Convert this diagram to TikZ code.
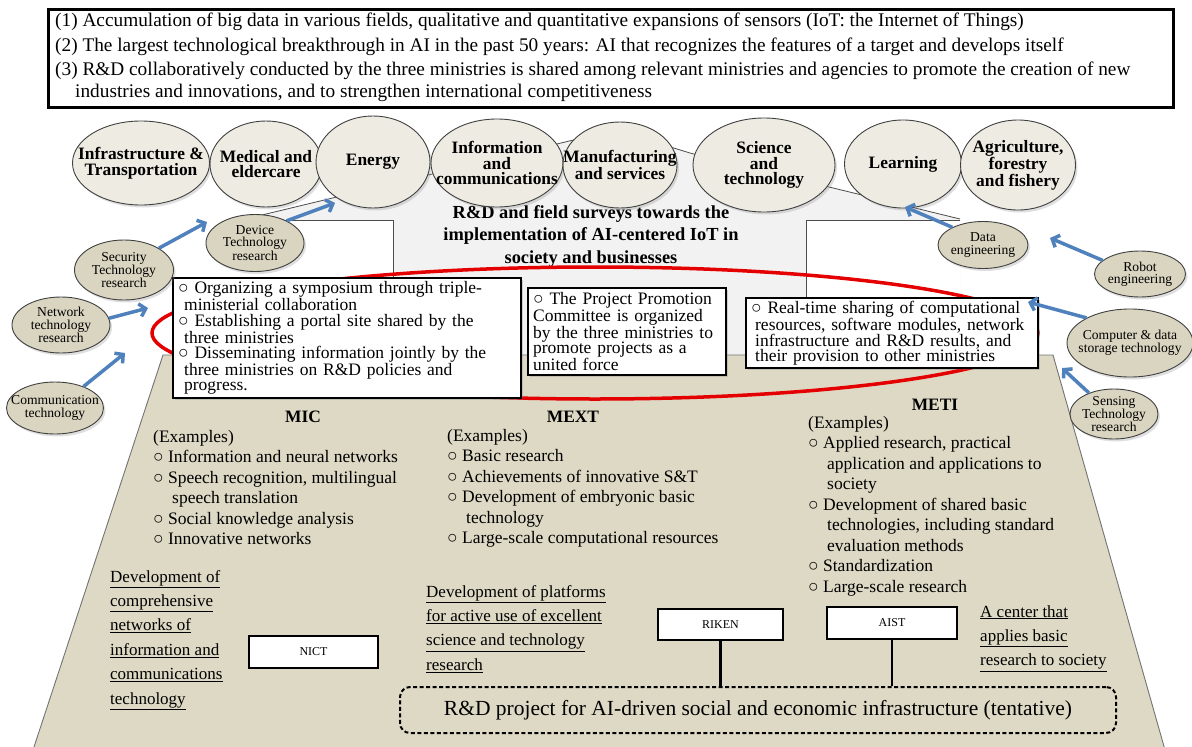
\documentclass[tikz,border=0pt]{standalone}
\usepackage{fontspec}
\setmainfont{Liberation Serif}
\usetikzlibrary{shapes.geometric,arrows.meta,shadows}
\definecolor{beigeA}{RGB}{221,217,196}
\definecolor{ellbig}{RGB}{238,236,226}
\definecolor{ellsmall}{RGB}{218,213,192}
\definecolor{arrowblue}{RGB}{79,129,189}
\definecolor{grayreg}{RGB}{242,242,242}
\definecolor{redring}{RGB}{228,0,0}
\newcommand{\bul}{○}
\newcommand{\hang}{\hspace*{19pt}}
\begin{document}
\begin{tikzpicture}[x=1pt,y=-1pt,
  bigell/.style={ellipse, draw=black!75, line width=0.9pt, fill=ellbig, inner sep=0pt,
    drop shadow={opacity=0.25,shadow xshift=2pt,shadow yshift=-2.5pt}},
  bigtxt/.style={align=center, inner sep=0pt, font=\fontsize{17.4}{15.5}\selectfont\bfseries},
  smallell/.style={ellipse, draw=black!75, line width=0.9pt, fill=ellsmall, inner sep=0pt,
    drop shadow={opacity=0.25,shadow xshift=2pt,shadow yshift=-2.5pt}},
  smalltxt/.style={align=center, inner sep=0pt, font=\fontsize{13.6}{12.3}\selectfont},
  infobox/.style={draw=black, line width=2.3pt, fill=white, align=left, anchor=north west,
    inner xsep=5pt, inner ysep=0pt, font=\fontsize{17.5}{15.5}\selectfont,
    drop shadow={opacity=0.3,shadow xshift=2pt,shadow yshift=-2pt}},
  bluearrow/.style={draw=arrowblue, line width=3.5pt, -{Straight Barb[length=6pt,width=13pt]}},
  thinline/.style={draw=black!70, line width=0.8pt},
  orgbox/.style={draw=black, line width=2.4pt, fill=white, font=\fontsize{12}{12}\selectfont, inner sep=0pt},
  coltext/.style={anchor=north west, align=left, inner sep=0pt, font=\fontsize{17.5}{20.5}\selectfont},
  ultext/.style={anchor=north west, align=left, inner sep=0pt, font=\fontsize{17}{24.4}\selectfont},
  toptext/.style={anchor=west, inner sep=0pt, font=\fontsize{19.3}{20}\selectfont},
  headtext/.style={inner sep=0pt, font=\fontsize{17.4}{18}\selectfont\bfseries}
]
\useasboundingbox (0,0) rectangle (1192,747);
\fill[white] (0,0) rectangle (1192,747);

% top box
\node[draw=black, line width=2.5pt, minimum width=1125, minimum height=98, anchor=north west, inner sep=0pt] (topbox) at (47,8) {};
\node[toptext] (t1) at (55,22) {(1) Accumulation of big data in various fields, qualitative and quantitative expansions of sensors (IoT: the Internet of Things)};
\node[toptext] (t2) at (55,47) {(2) The largest technological breakthrough in AI in the past 50 years: AI that recognizes the features of a target and develops itself};
\node[toptext] (t3) at (55,71) {(3) R\&D collaboratively conducted by the three ministries is shared among relevant ministries and agencies to promote the creation of new};
\node[toptext] (t4) at (75,93) {industries and innovations, and to strengthen international competitiveness};

% gray upper region
\fill[grayreg] (262,215) -- (615,130) -- (690,153) -- (960,219) -- (960,356) -- (262,356) -- cycle;
\draw[thinline] (262,215) -- (615,130) -- (690,153) -- (960,219);
\fill[white] (262,220) rectangle (393,356);
\fill[white] (806,220) rectangle (960,356);
\draw[thinline] (262,220) -- (393,220) -- (393,356);
\draw[thinline] (960,220) -- (806,220) -- (806,356);

\node[align=center, inner sep=0pt, font=\fontsize{18.4}{22.5}\selectfont\bfseries] (title) at (591,236.5)
  {R\&D and field surveys towards the\\implementation of AI-centered IoT in\\society and businesses};

% beige base
\draw[black!55, line width=0.9pt, fill=beigeA] (163,355) -- (1053,355) -- (1165,750) -- (33,750) -- cycle;

% red ring
\node[ellipse, draw=redring, line width=3.5pt, minimum width=886, minimum height=132, inner sep=0pt] (ring) at (595,333) {};

% info boxes
\node[infobox, minimum width=348, minimum height=120, text width=338] (boxA) at (172,277)
  {\bul{} Organizing a symposium through triple-\\\hspace*{6pt}ministerial collaboration\\\bul{} Establishing a portal site shared by the\\\hspace*{6pt}three ministries\\\bul{} Disseminating information jointly by the\\\hspace*{6pt}three ministries on R\&D policies and\\\hspace*{6pt}progress.};
\node[infobox, minimum width=198, minimum height=87, text width=188] (boxB) at (527,287)
  {\bul{} The Project Promotion\\Committee is organized\\by the three ministries to\\promote projects as a\\united force};
\node[infobox, minimum width=292, minimum height=70, text width=282] (boxC) at (745,297)
  {\bul{} Real-time sharing of computational\\\hspace*{4pt}resources, software modules, network\\\hspace*{4pt}infrastructure and R\&D results, and\\\hspace*{4pt}their provision to other ministries};

% big ellipses
\node[bigell, minimum width=137, minimum height=84] (infra) at (141,163) {};
\node[bigell, minimum width=112, minimum height=86] (med) at (266,164) {};
\node[bigell, minimum width=114, minimum height=92] (energy) at (373,162) {};
\node[bigell, minimum width=132, minimum height=88] (info) at (497,163) {};
\node[bigell, minimum width=114, minimum height=86] (manu) at (620,165) {};
\node[bigell, minimum width=142, minimum height=94] (sci) at (764,165) {};
\node[bigell, minimum width=117, minimum height=88] (learn) at (903,164) {};
\node[bigell, minimum width=115, minimum height=90] (agri) at (1018,165) {};
\node[bigtxt] (infraT) at (infra) {Infrastructure \&\\Transportation};
\node[bigtxt] (medT) at (med) {Medical and\\eldercare};
\node[bigtxt] (energyT) at (energy) {Energy};
\node[bigtxt] (infoT) at (info) {Information\\and\\communications};
\node[bigtxt] (manuT) at (manu) {Manufacturing\\and services};
\node[bigtxt] (sciT) at (sci) {Science\\and\\technology};
\node[bigtxt] (learnT) at (learn) {Learning};
\node[bigtxt] (agriT) at (agri) {Agriculture,\\forestry\\and fishery};

% small ellipses
\node[smallell, minimum width=98, minimum height=57] (dev) at (255,243) {};
\node[smallell, minimum width=99, minimum height=60] (sec) at (124,270) {};
\node[smallell, minimum width=98, minimum height=56] (net) at (61,325) {};
\node[smallell, minimum width=97, minimum height=52] (comm) at (55,408) {};
\node[smallell, minimum width=90, minimum height=47] (data) at (983,245) {};
\node[smallell, minimum width=91, minimum height=46] (robot) at (1140,274) {};
\node[smallell, minimum width=126, minimum height=68] (comp) at (1130,343) {};
\node[smallell, minimum width=88, minimum height=50] (sens) at (1114,414) {};
\node[smalltxt] (devT) at (dev) {Device\\Technology\\research};
\node[smalltxt] (secT) at (sec) {Security\\Technology\\research};
\node[smalltxt] (netT) at (net) {Network\\technology\\research};
\node[smalltxt] (commT) at (comm) {Communication\\technology};
\node[smalltxt] (dataT) at (data) {Data\\engineering};
\node[smalltxt] (robotT) at (robot) {Robot\\engineering};
\node[smalltxt] (compT) at (comp) {Computer \& data\\storage technology};
\node[smalltxt] (sensT) at (sens) {Sensing\\Technology\\research};

% arrow ends
\coordinate (commE) at (125,353);
\coordinate (netE) at (148,308);
\coordinate (secE) at (207,222);
\coordinate (devE) at (335,203);
\coordinate (dataE) at (905,207);
\coordinate (robotE) at (1050,238);
\coordinate (compE) at (1028,302);
\coordinate (sensE) at (1062,368);
\draw[bluearrow] (comm.37) -- (commE);
\draw[bluearrow] (net.8) -- (netE);
\draw[bluearrow] (sec.32) -- (secE);
\draw[bluearrow] (dev.35) -- (devE);
\draw[bluearrow] (data.150) -- (dataE);
\draw[bluearrow] (robot.160) -- (robotE);
\draw[bluearrow] (comp.150) -- (compE);
\draw[bluearrow] (sens.140) -- (sensE);

% ministries
\node[headtext] (mic) at (303,417) {MIC};
\node[headtext] (mext) at (573,417) {MEXT};
\node[headtext] (meti) at (935,405) {METI};

\node[coltext] (micL) at (153,430)
  {(Examples)\\\bul{} Information and neural networks\\\bul{} Speech recognition, multilingual\\\hang speech translation\\\bul{} Social knowledge analysis\\\bul{} Innovative networks};
\node[coltext] (mextL) at (447,429)
  {(Examples)\\\bul{} Basic research\\\bul{} Achievements of innovative S\&T\\\bul{} Development of embryonic basic\\\hang technology\\\bul{} Large-scale computational resources};
\node[coltext] (metiL) at (808,416)
  {(Examples)\\\bul{} Applied research, practical\\\hang application and applications to\\\hang society\\\bul{} Development of shared basic\\\hang technologies, including standard\\\hang evaluation methods\\\bul{} Standardization\\\bul{} Large-scale research};

\node[ultext] (micU) at (110,570)
  {\underline{Development of}\\\underline{comprehensive}\\\underline{networks of}\\\underline{information and}\\\underline{communications}\\\underline{technology}};
\node[ultext] (mextU) at (426,585)
  {\underline{Development of platforms}\\\underline{for active use of excellent}\\\underline{science and technology}\\\underline{research}};
\node[ultext] (metiU) at (980,605)
  {\underline{A center that}\\\underline{applies basic}\\\underline{research to society}};

% organisations
\node[orgbox, minimum width=129, minimum height=32] (nict) at (313.5,652) {NICT};
\node[orgbox, minimum width=125, minimum height=31] (riken) at (720.5,624.5) {RIKEN};
\node[orgbox, minimum width=130, minimum height=32] (aist) at (892,623) {AIST};
\node[draw=black, line width=2pt, dashed, dash pattern=on 4pt off 2.5pt, rounded corners=10pt, fill=beigeA,
  minimum width=716, minimum height=46, inner sep=0pt, font=\fontsize{21.5}{22}\selectfont] (proj) at (758,710)
  {R\&D project for AI-driven social and economic infrastructure (tentative)};
\draw[black, line width=2.4pt] (riken.south) -- (riken.south |- proj.north);
\draw[black, line width=2.4pt] (aist.south) -- (aist.south |- proj.north);
\end{tikzpicture}
\end{document}
